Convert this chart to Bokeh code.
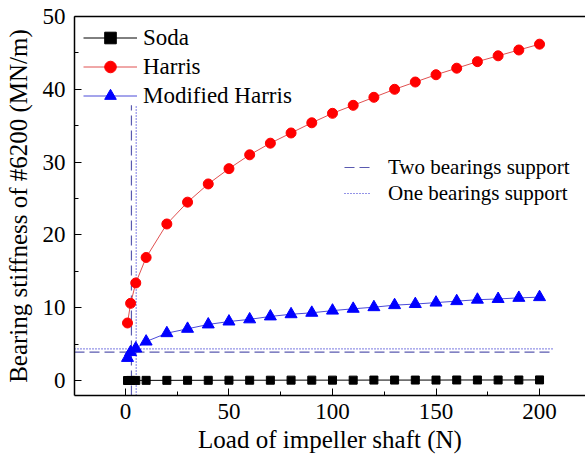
from bokeh.plotting import figure
from bokeh.models import Range1d, FixedTicker, LinearAxis, Legend, LegendItem
from bokeh.embed import file_html
from bokeh.resources import INLINE

# ---- data ----
load = [1, 2.5, 5, 10, 20, 30, 40, 50, 60, 70, 80, 90, 100, 110, 120, 130,
        140, 150, 160, 170, 180, 190, 200]
soda = [0.0, 0.01, 0.01, 0.02, 0.02, 0.03, 0.03, 0.04, 0.04, 0.04, 0.05, 0.05,
        0.05, 0.05, 0.06, 0.06, 0.06, 0.06, 0.07, 0.07, 0.07, 0.07, 0.08]
harris = [7.9, 10.6, 13.4, 16.9, 21.5, 24.5, 27.0, 29.1, 31.0, 32.6, 34.0, 35.4,
          36.7, 37.8, 38.9, 40.0, 41.0, 42.0, 42.9, 43.8, 44.6, 45.4, 46.2]
mod_harris = [3.1, 3.9, 4.4, 5.35, 6.5, 7.1, 7.7, 8.1, 8.4, 8.8, 9.1, 9.3, 9.6,
              9.85, 10.07, 10.35, 10.5, 10.7, 10.9, 11.1, 11.2, 11.35, 11.45]

# support reference lines
two_support_load = 2.9
two_support_stiff = 3.9
one_support_load = 5.2
one_support_stiff = 4.35
ref_v_top = 37.8
ref_h_end = 207

x_ticks = [0, 50, 100, 150, 200]
x_minor = [25, 75, 125, 175]
y_ticks = [0, 10, 20, 30, 40, 50]
y_minor = [5, 15, 25, 35, 45]

X0, X1 = -24.6, 222.2
Y0, Y1 = -2.06, 50

FONT = "Times"

p = figure(width=585, height=455, output_backend="svg", toolbar_location=None,
           x_range=Range1d(X0, X1), y_range=Range1d(Y0, Y1),
           min_border_left=74, min_border_right=0, min_border_top=16,
           min_border_bottom=60, x_axis_label="Load of impeller shaft (N)",
           y_axis_label="Bearing stiffness of #6200 (MN/m)")
p.outline_line_color = None
p.xgrid.visible = False
p.ygrid.visible = False
p.background_fill_color = "white"
p.border_fill_color = "white"

for ax, t, m in ((p.xaxis[0], x_ticks, x_minor), (p.yaxis[0], y_ticks, y_minor)):
    ax.ticker = FixedTicker(ticks=t, minor_ticks=m)
    ax.major_tick_in = 7
    ax.major_tick_out = 0
    ax.minor_tick_in = 4
    ax.minor_tick_out = 0
    ax.axis_line_color = "black"
    ax.axis_line_width = 1.5
    ax.major_tick_line_color = "black"
    ax.minor_tick_line_color = "black"
    ax.major_label_text_font = FONT
    ax.major_label_text_font_size = "23px"
    ax.major_label_text_color = "black"
    ax.axis_label_text_font = FONT
    ax.axis_label_text_font_size = "25px"
    ax.axis_label_text_font_style = "normal"
    ax.axis_label_text_color = "black"

p.xaxis[0].major_label_standoff = 8
p.xaxis[0].axis_label_standoff = 4
p.yaxis[0].major_label_standoff = 9
p.yaxis[0].axis_label_standoff = 8

top = LinearAxis(ticker=FixedTicker(ticks=[]), axis_line_color="black",
                 axis_line_width=1.5, major_tick_line_color=None,
                 minor_tick_line_color=None, major_label_text_font_size="0px")
p.add_layout(top, "above")

# reference lines
dash_col = "#5A5AB0"
dot_col = "#2A2AD0"
r_two_v = p.line([two_support_load, two_support_load], [Y0, ref_v_top],
                 line_color=dash_col, line_dash="10 5", line_width=1.2)
r_two_h = p.line([X0, ref_h_end], [two_support_stiff, two_support_stiff],
                 line_color=dash_col, line_dash="10 5", line_width=1.2)
r_one_v = p.line([one_support_load, one_support_load], [Y0, ref_v_top],
                 line_color=dot_col, line_dash="1 2", line_width=1.2)
r_one_h = p.line([X0, ref_h_end], [one_support_stiff, one_support_stiff],
                 line_color=dot_col, line_dash="1 2", line_width=1.2)

# series
l_soda = p.line(load, soda, line_color="black", line_width=1)
s_soda = p.scatter(load, soda, marker="square", size=8, fill_color="black",
                   line_color="black")
l_har = p.line(load, harris, line_color="#E05050", line_width=1)
s_har = p.scatter(load, harris, marker="circle", size=10, fill_color="#FF0000",
                  line_color="#FF0000")
l_mod = p.line(load, mod_harris, line_color="#4A4AD8", line_width=1)
s_mod = p.scatter(load, mod_harris, marker="triangle", size=12,
                  fill_color="#0000FF", line_color="#0000FF")

leg1 = Legend(items=[LegendItem(label="Soda", renderers=[l_soda, s_soda]),
                     LegendItem(label="Harris", renderers=[l_har, s_har]),
                     LegendItem(label="Modified Harris", renderers=[l_mod, s_mod])],
              location=(9, 285), orientation="vertical",
              glyph_width=54, glyph_height=29, label_height=29, spacing=0,
              padding=0, margin=0, label_standoff=6,
              label_text_font=FONT, label_text_font_size="23px",
              label_text_color="black", border_line_color=None,
              background_fill_alpha=0)
leg2 = Legend(items=[LegendItem(label="Two bearings support", renderers=[r_two_h]),
                     LegendItem(label="One bearings support", renderers=[r_one_h])],
              location=(270, 189), orientation="vertical",
              glyph_width=27, glyph_height=26, label_height=26, spacing=0,
              padding=0, margin=0, label_standoff=17,
              label_text_font=FONT, label_text_font_size="21px",
              label_text_color="black", border_line_color=None,
              background_fill_alpha=0)
p.add_layout(leg1, "center")
p.add_layout(leg2, "center")

open("out.html", "w").write(file_html(p, INLINE))
